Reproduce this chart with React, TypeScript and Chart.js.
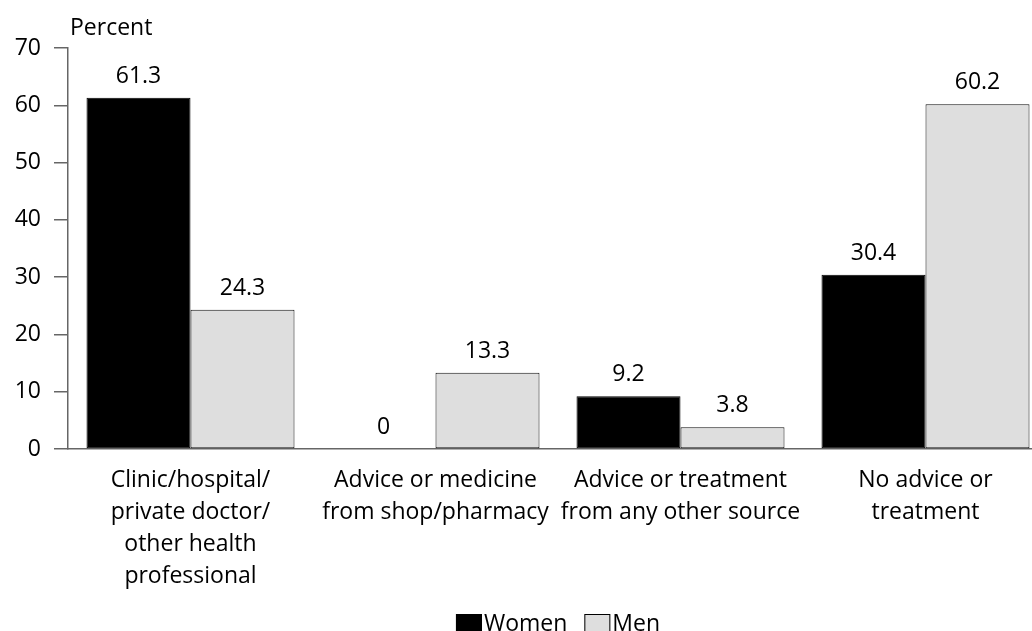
import React, { useEffect, useRef } from "react";
import { Chart, registerables } from "chart.js";

Chart.register(...registerables);

const categories: string[][] = [
  ["Clinic/hospital/", "private doctor/", "other health", "professional"],
  ["Advice or medicine", "from shop/pharmacy"],
  ["Advice or treatment", "from any other source"],
  ["No advice or", "treatment"],
];
const women: number[] = [61.3, 0, 9.2, 30.4];
const men: number[] = [24.3, 13.3, 3.8, 60.2];
const yTicks: number[] = [0, 10, 20, 30, 40, 50, 60, 70];
const seriesNames: string[] = ["Women", "Men"];
const FONT = "'Open Sans', Lato, sans-serif";
const FS = 23;

const labelPlugin = {
  id: "valueLabels",
  afterDatasetsDraw(chart: any) {
    const ctx = chart.ctx;
    const area = chart.chartArea;
    ctx.save();
    ctx.font = `${FS}px ${FONT}`;
    ctx.fillStyle = "#000";
    ctx.textAlign = "center";
    ctx.textBaseline = "alphabetic";
    chart.data.datasets.forEach((ds: any, di: number) => {
      const meta = chart.getDatasetMeta(di);
      meta.data.forEach((el: any, i: number) => {
        const v = ds.data[i];
        ctx.fillText(String(v), el.x, el.y - 15);
      });
    });
    // axis title
    ctx.textAlign = "left";
    ctx.fillText("Percent", area.left + 2, 35);

    // legend
    const boxW = 26;
    const boxH = 18;
    const gap = 2;
    const itemGap = 17;
    const items = chart.data.datasets.map((ds: any) => ({
      text: ds.label,
      fill: ds.backgroundColor,
      w: boxW + gap + ctx.measureText(ds.label).width,
    }));
    const total = items.reduce((a: number, it: any) => a + it.w, 0) + itemGap * (items.length - 1);
    let x = (area.left + area.right) / 2 - total / 2;
    const boxTop = 614;
    items.forEach((it: any) => {
      ctx.fillStyle = it.fill;
      ctx.fillRect(x, boxTop, boxW, boxH);
      ctx.strokeStyle = "#000";
      ctx.lineWidth = 1;
      ctx.strokeRect(x + 0.5, boxTop + 0.5, boxW - 1, boxH - 1);
      ctx.fillStyle = "#000";
      ctx.fillText(it.text, x + boxW + gap, 631);
      x += it.w + itemGap;
    });
    ctx.restore();
  },
};

export default function App() {
  const ref = useRef<HTMLCanvasElement | null>(null);
  useEffect(() => {
    if (!ref.current) return;
    const chart = new Chart(ref.current, {
      type: "bar",
      data: {
        labels: categories,
        datasets: [
          {
            label: seriesNames[0],
            data: women,
            backgroundColor: "#000000",
            borderColor: "#000000",
            borderWidth: 1,
          },
          {
            label: seriesNames[1],
            data: men,
            backgroundColor: "#dedede",
            borderColor: "#111111",
            borderWidth: 1,
          },
        ],
      },
      options: {
        responsive: false,
        animation: false,
        devicePixelRatio: 1,
        layout: { padding: { top: 48, right: 12, left: 0, bottom: 0 } },
        datasets: { bar: { categoryPercentage: 0.849, barPercentage: 1, borderSkipped: false } },
        scales: {
          x: {
            grid: { display: false, drawTicks: false },
            border: { display: true, color: "#666666", width: 1.5 },
            ticks: {
              color: "#000",
              font: { family: FONT, size: FS, lineHeight: 32 / FS },
              padding: 15,
              maxRotation: 0,
              autoSkip: false,
            },
            afterFit: (s: any) => {
              s.height = 182;
            },
          },
          y: {
            min: 0,
            max: 70,
            afterBuildTicks: (s: any) => {
              s.ticks = yTicks.map((v) => ({ value: v }));
            },
            grid: { drawOnChartArea: false, drawTicks: true, tickLength: 14, color: "#666666", lineWidth: 1.5 },
            border: { display: true, color: "#666666", width: 1.5 },
            ticks: {
              color: "#000",
              font: { family: FONT, size: FS },
              padding: 13,
            },
            afterFit: (s: any) => {
              s.width = 68;
            },
          },
        },
        plugins: {
          tooltip: { enabled: false },
          legend: { display: false },
        },
      },
      plugins: [labelPlugin],
    });
    return () => chart.destroy();
  }, []);
  return (
    <div
      style={{
        position: "fixed",
        left: 0,
        top: 0,
        width: 1032,
        height: 631,
        overflow: "hidden",
        background: "#fff",
      }}
    >
      <canvas ref={ref} width={1060} height={631} style={{ width: 1060, height: 631, display: "block" }} />
    </div>
  );
}
